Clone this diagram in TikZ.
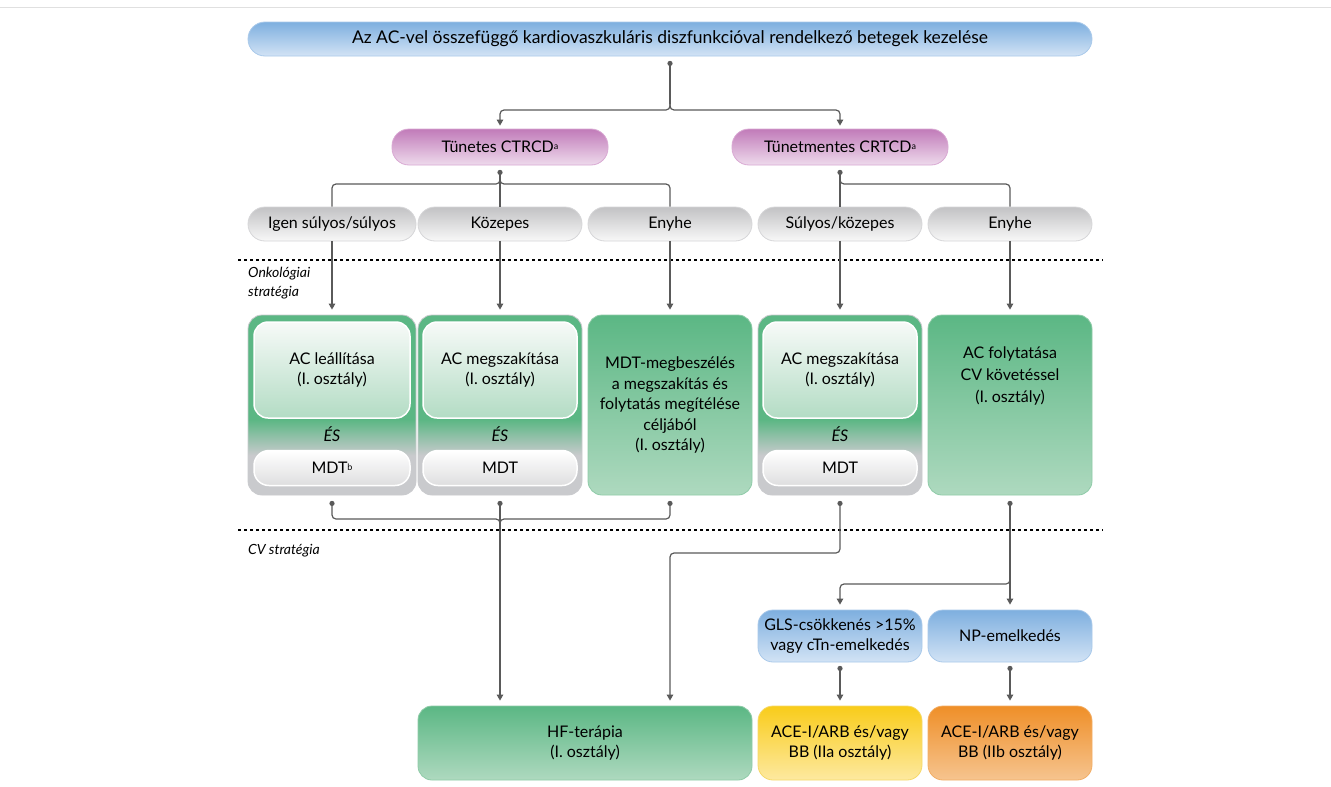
\documentclass[tikz,border=0pt]{standalone}
\usepackage{fontspec}
\setmainfont{Lato}
\usetikzlibrary{arrows.meta}
\definecolor{blueT}{HTML}{7EAFDF}
\definecolor{blueB}{HTML}{D2E3F5}
\definecolor{blueL}{HTML}{A9C9EA}
\definecolor{pinkT}{HTML}{C17BB9}
\definecolor{pinkB}{HTML}{EEDAEC}
\definecolor{pinkL}{HTML}{D9A9D3}
\definecolor{grayT}{HTML}{C2C2C4}
\definecolor{grayB}{HTML}{F8F8F8}
\definecolor{grayL}{HTML}{D6D6D8}
\definecolor{greenT}{HTML}{5BB784}
\definecolor{greenB}{HTML}{AED9BF}
\definecolor{greenL}{HTML}{8FCBA8}
\definecolor{combGray}{HTML}{C9CACD}
\definecolor{innerG}{HTML}{B3DCC4}
\definecolor{innerW}{HTML}{F7FAF8}
\definecolor{mdtB}{HTML}{DEDEDF}
\definecolor{yellowT}{HTML}{F9CC1A}
\definecolor{yellowB}{HTML}{FDE9A0}
\definecolor{yellowL}{HTML}{F6D96A}
\definecolor{orangeT}{HTML}{EF8F28}
\definecolor{orangeB}{HTML}{F6C48F}
\definecolor{orangeL}{HTML}{F2AE66}
\definecolor{lineC}{HTML}{5A5A5A}
\pgfdeclareverticalshading{combshade}{100bp}{color(0bp)=(combGray); color(36bp)=(combGray); color(46bp)=(greenT); color(100bp)=(greenT)}
\newcommand{\supr}[1]{\raisebox{0.45ex}{\fontsize{9}{9}\selectfont #1}}
\tikzset{
  txt/.style={font=\fontsize{16}{20.5}\selectfont, text=black, align=center, inner sep=0pt},
  pill/.style={txt, rounded corners=17pt, line width=0.8pt},
  titlebox/.style={pill, font=\fontsize{17.5}{21}\selectfont, draw=blueL, top color=blueT, bottom color=blueB},
  pinkbox/.style={pill, draw=pinkL, top color=pinkT, bottom color=pinkB, minimum width=216pt, minimum height=36pt},
  graybox/.style={pill, draw=grayL, top color=grayT, bottom color=grayB, minimum width=164pt, minimum height=34pt},
  greenbox/.style={txt, rounded corners=14pt, draw=greenL, line width=0.8pt, top color=greenT, bottom color=greenB},
  combbox/.style={rounded corners=14pt, draw=combGray, line width=0.8pt, shading=combshade, minimum width=164pt, minimum height=180pt},
  innerbox/.style={txt, rounded corners=14pt, draw=white, line width=1.5pt, top color=innerW, bottom color=innerG, minimum width=154pt, minimum height=96pt},
  mdtbox/.style={txt, rounded corners=15pt, draw=white, line width=1.5pt, top color=white, bottom color=mdtB, minimum width=154pt, minimum height=35pt},
  bluebox/.style={txt, rounded corners=15pt, draw=blueL, line width=0.8pt, top color=blueT, bottom color=blueB, minimum width=164pt, minimum height=52pt},
  yelbox/.style={txt, rounded corners=15pt, draw=yellowL, line width=0.8pt, top color=yellowT, bottom color=yellowB, minimum width=164pt, minimum height=74pt},
  orabox/.style={txt, rounded corners=15pt, draw=orangeL, line width=0.8pt, top color=orangeT, bottom color=orangeB, minimum width=164pt, minimum height=74pt},
  estxt/.style={txt, font=\fontsize{16}{20}\selectfont\itshape},
  ln/.style={draw=lineC, line width=1.2pt, rounded corners=4pt},
  arr/.style={ln, -{Triangle[width=6.5pt,length=6pt]}},
  dotc/.style={fill=lineC},
  sep/.style={draw=black, line width=1.2pt, dash pattern=on 3pt off 3pt},
  lbl/.style={font=\fontsize{14}{18.5}\selectfont\itshape, align=left, anchor=west, inner sep=0pt}
}
\begin{document}
\begin{tikzpicture}[x=1pt,y=-1pt]
\useasboundingbox (0,0) rectangle (1331,787);
\fill[white] (0,0) rectangle (1331,787);
\draw[draw=black!12, line width=1pt] (0,7) -- (1331,7);

% title
\node[titlebox, minimum width=844pt, minimum height=34pt] (title) at (670,39) {Az AC-vel összefüggő kardiovaszkuláris diszfunkcióval rendelkező betegek kezelése};

% pink
\node[pinkbox] (p1) at (500,147) {Tünetes CTRCD\supr{a}};
\node[pinkbox] (p2) at (840,147) {Tünetmentes CRTCD\supr{a}};

% gray severity
\node[graybox, minimum width=168pt] (g1) at (332,224) {Igen súlyos/súlyos};
\node[graybox] (g2) at (500,224) {Közepes};
\node[graybox] (g3) at (670,224) {Enyhe};
\node[graybox] (g4) at (840,224) {Súlyos/közepes};
\node[graybox] (g5) at (1010,224) {Enyhe};

% separators
\draw[sep] (238,260) -- (1103,260);
\draw[sep] (238,530) -- (1103,530);
\node[lbl] (onk) at (248,283) {Onkológiai\\stratégia};
\node[lbl] (cvs) at (248,551) {CV stratégia};

% oncology boxes
\node[combbox, minimum width=168pt] (G1) at (332,405) {};
\node[innerbox, minimum width=156pt] (G1a) at (332,370) {AC leállítása\\(I. osztály)};
\node[estxt] (G1e) at (332,434) {ÉS};
\node[mdtbox, minimum width=156pt] (G1b) at (332,468) {MDT\supr{b}};

\node[combbox] (G2) at (500,405) {};
\node[innerbox] (G2a) at (500,370) {AC megszakítása\\(I. osztály)};
\node[estxt] (G2e) at (500,434) {ÉS};
\node[mdtbox] (G2b) at (500,468) {MDT};

\node[greenbox, minimum width=164pt, minimum height=180pt] (G3) at (670,405) {MDT-megbeszélés\\a megszakítás és\\folytatás megítélése\\céljából\\(I. osztály)};

\node[combbox] (G4) at (840,405) {};
\node[innerbox] (G4a) at (840,370) {AC megszakítása\\(I. osztály)};
\node[estxt] (G4e) at (840,434) {ÉS};
\node[mdtbox] (G4b) at (840,468) {MDT};

\node[greenbox, minimum width=164pt, minimum height=180pt, font=\fontsize{16}{22}\selectfont] (G5) at (1010,405) {AC folytatása\\CV követéssel\\(I. osztály)\\[38pt]};

% CV boxes
\node[bluebox] (b1) at (840,636) {GLS-csökkenés >15\%\\vagy cTn-emelkedés};
\node[bluebox] (b2) at (1010,636) {NP-emelkedés};
\node[greenbox, minimum width=334pt, minimum height=74pt] (hf) at (585,743) {HF-terápia\\(I. osztály)};
\node[yelbox] (y1) at (840,743) {ACE-I/ARB és/vagy\\BB (IIa osztály)};
\node[orabox] (o1) at (1010,743) {ACE-I/ARB és/vagy\\BB (IIb osztály)};

% coordinates
\coordinate (d0) at ([yshift=-7pt]title.south);
\coordinate (j0) at (670,104);
\coordinate (d1) at ([yshift=-7pt]p1.south);
\coordinate (j1) at (500,178);
\coordinate (d2) at ([yshift=-7pt]p2.south);
\coordinate (j2) at (840,178);
\coordinate (e1) at ([yshift=-8pt]G1.south);
\coordinate (e2) at ([yshift=-8pt]G2.south);
\coordinate (e3) at ([yshift=-8pt]G3.south);
\coordinate (e4) at ([yshift=-8pt]G4.south);
\coordinate (e5) at ([yshift=-8pt]G5.south);
\coordinate (k1) at (670,553);
\coordinate (j5) at (1010,578);
\coordinate (f1) at ([yshift=-6pt]b1.south);
\coordinate (f2) at ([yshift=-6pt]b2.south);

% top connectors
\draw[ln] (d0) -- (j0);
\draw[arr, shorten >=3pt] (j0) -- ++(0,6) -| (p1.north);
\draw[arr, shorten >=3pt] (j0) -- ++(0,6) -| (p2.north);
\fill[dotc] (d0) circle (2.6pt);

% symptomatic branch
\draw[ln] (d1) -- (g2.north);
\draw[ln] (j1) -- ++(0,6) -| (g1.north);
\draw[ln] (j1) -- ++(0,6) -| (g3.north);
\fill[dotc] (d1) circle (2.6pt);

% asymptomatic branch
\draw[ln] (d2) -- (g4.north);
\draw[ln] (j2) -- ++(0,6) -| (g5.north);
\fill[dotc] (d2) circle (2.6pt);

% severity to oncology boxes
\draw[arr, shorten >=5pt] (g1.south) -- (G1.north);
\draw[arr, shorten >=5pt] (g2.south) -- (G2.north);
\draw[arr, shorten >=5pt] (g3.south) -- (G3.north);
\draw[arr, shorten >=5pt] (g4.south) -- (G4.north);
\draw[arr, shorten >=5pt] (g5.south) -- (G5.north);

% oncology to CV
\draw[ln] (e1) |- (500,519) -- (500,525);
\draw[ln] (e3) |- (500,519) -- (500,525);
\draw[arr, shorten >=5pt] (e2) -- (e2 |- hf.north);
\draw[arr, shorten >=5pt] (e4) |- (k1) -- (k1 |- hf.north);
\draw[arr, shorten >=5pt] (e5) -- (b2.north);
\draw[arr, shorten >=5pt] (j5) -- ++(0,6) -| (b1.north);
\fill[dotc] (e1) circle (2.6pt);
\fill[dotc] (e2) circle (2.6pt);
\fill[dotc] (e3) circle (2.6pt);
\fill[dotc] (e4) circle (2.6pt);
\fill[dotc] (e5) circle (2.6pt);

% blue to treatment
\draw[arr, shorten >=5pt] (f1) -- (y1.north);
\draw[arr, shorten >=5pt] (f2) -- (o1.north);
\fill[dotc] (f1) circle (2.6pt);
\fill[dotc] (f2) circle (2.6pt);
\end{tikzpicture}
\end{document}
